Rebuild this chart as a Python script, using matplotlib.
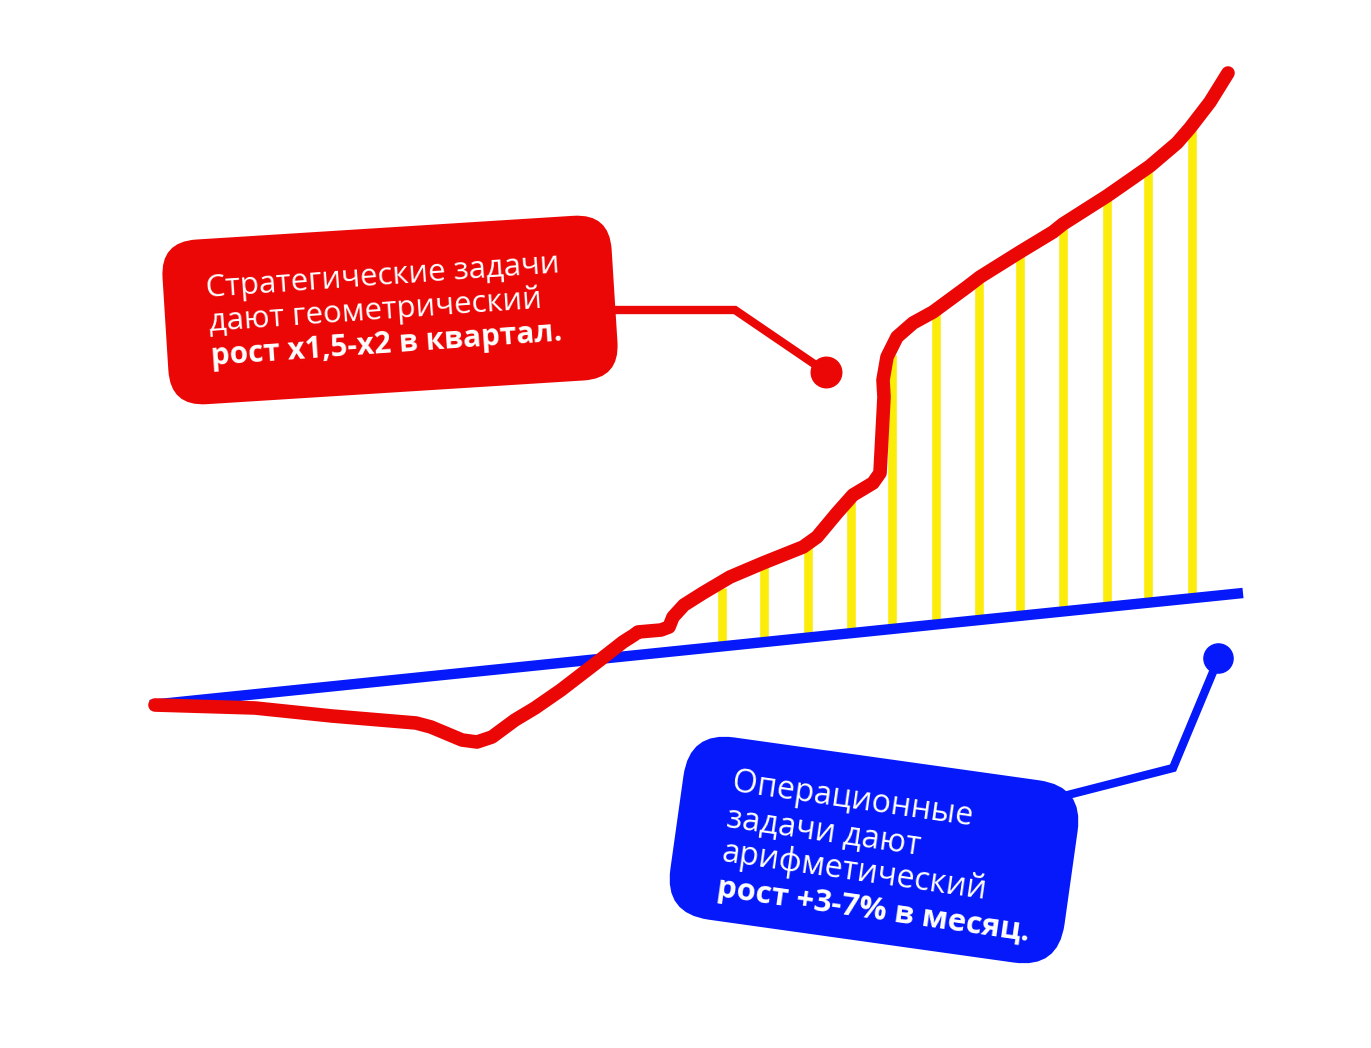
import numpy as np
import matplotlib.pyplot as plt
from matplotlib.patches import FancyBboxPatch
from matplotlib.transforms import Affine2D

# --- data (canvas units, y grows downwards) ---
red_x = [155, 255, 332, 416, 431, 462, 477, 492, 515, 535, 561, 600, 623, 634, 638,
         661, 669, 673, 684, 703, 730, 763, 803, 817, 837, 853, 873, 880, 884, 883,
         887, 897, 913, 933, 967, 980, 1020, 1053, 1063, 1107, 1130, 1150, 1177,
         1190, 1210, 1228]
red_y = [705, 708, 716, 723, 727, 740, 742, 737, 720, 708, 690, 660, 642, 635, 632,
         630, 627, 617, 605, 593, 577, 563, 547, 537, 513, 495, 483, 473, 397, 380,
         357, 337, 323, 312, 287, 277, 252, 232, 224, 196, 180, 166, 143,
         128, 102, 73]

blue_x = [150, 1243]
blue_y = [705, 593]

bar_x = [722, 764, 808, 851, 892, 936, 979, 1020, 1063, 1107, 1148, 1192]
bar_top = [588, 565, 547, 502, 355, 313, 279, 253, 228, 198, 168, 130]

red_lines = ["Стратегические задачи", "дают геометрический", "рост x1,5-x2 в квартал."]
blue_lines = ["Операционные", "задачи дают", "арифметический", "рост +3-7% в месяц."]

RED = '#EC0707'
BLUE = '#0519FB'
YELLOW = '#FCEC0A'
FONT = ['Open Sans', 'DejaVu Sans']

fig = plt.figure(figsize=(13.71, 10.48), dpi=100)
ax = fig.add_axes([0, 0, 1, 1])
ax.set_xlim(0, 1371)
ax.set_ylim(1048, 0)
ax.axis('off')

# yellow gap bars between the two growth lines
bar_bottom = np.interp(bar_x, blue_x, blue_y)
ax.vlines(bar_x, bar_bottom, bar_top, color=YELLOW, lw=6.2, zorder=1)

# arithmetic (blue) and geometric (red) growth
ax.plot(blue_x, blue_y, color=BLUE, lw=7.5, solid_capstyle='butt', zorder=2)
ax.plot(red_x, red_y, color=RED, lw=9.8, solid_capstyle='round',
        solid_joinstyle='round', zorder=3)


def tilted_box(cx, cy, w, h, r, ang, color):
    tr = Affine2D().rotate_deg_around(cx, cy, ang) + ax.transData
    box = FancyBboxPatch((cx - w / 2, cy - h / 2), w, h,
                         boxstyle=f"round,pad=0,rounding_size={r}",
                         fc=color, ec='none', transform=tr, zorder=4)
    ax.add_patch(box)


def text_block(lines, x0, y0, step, ang, size, bold_size):
    a = np.deg2rad(ang)
    # move down along the tilted "vertical" axis for each line
    dx, dy = -np.sin(a) * step, np.cos(a) * step
    for i, s in enumerate(lines):
        last = i == len(lines) - 1
        ax.text(x0 + i * dx, y0 + i * dy, s, rotation=-ang, rotation_mode='anchor',
                ha='left', va='baseline', color='white',
                fontsize=bold_size if last else size,
                fontweight='bold' if last else 'normal', family=FONT, zorder=6)


# red callout
ax.plot([610, 735, 826], [310, 310, 372], color=RED, lw=6, zorder=3,
        solid_joinstyle='miter')
ax.plot([826], [372], 'o', color=RED, ms=22, zorder=3)
tilted_box(390, 310, 450, 165, 36, -3.6, RED)
text_block(red_lines, 207, 297, 34, -4.0, 22.4, 21.4)

# blue callout
ax.plot([1060, 1173, 1218], [797, 768, 660], color=BLUE, lw=6, zorder=3,
        solid_joinstyle='miter')
ax.plot([1218], [658], 'o', color=BLUE, ms=21, zorder=3)
tilted_box(874, 850, 398, 184, 45, 8.0, BLUE)
text_block(blue_lines, 731, 791, 35.5, 8.2, 23, 22.3)

fig.savefig('out.png', dpi=100, facecolor='white')
